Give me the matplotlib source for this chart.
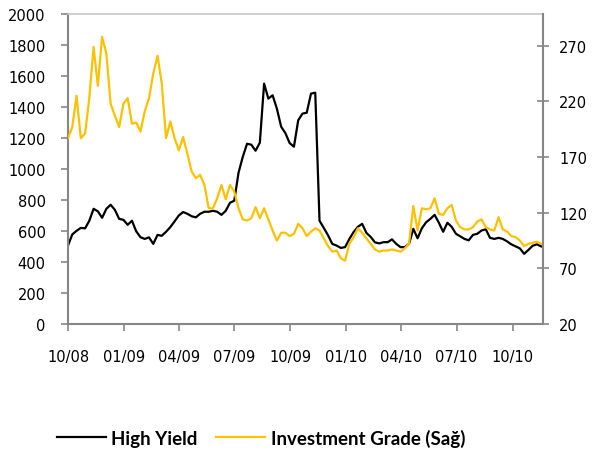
import numpy as np
import pandas as pd
import matplotlib
matplotlib.use("Agg")
import matplotlib.pyplot as plt
import matplotlib.dates as mdates
from matplotlib.lines import Line2D

# haftalik veri, 2008-10-01'den baslar
start = "2008-10-01"
n_weeks = 112

high_yield = [505, 577, 600, 619, 616, 665, 742, 726, 684, 742,
              768, 735, 677, 671, 639, 665, 597, 559, 548, 558,
              516, 574, 568, 594, 624, 661, 699, 721, 710, 694,
              687, 710, 723, 723, 729, 723, 703, 729, 781, 794,
              974, 1077, 1161, 1155, 1116, 1168, 1548, 1452, 1473, 1387,
              1271, 1229, 1165, 1142, 1312, 1355, 1361, 1484, 1490, 665,
              619, 571, 516, 505, 490, 495, 548, 592, 626, 645,
              587, 561, 526, 519, 527, 527, 545, 516, 495, 495,
              516, 613, 552, 616, 655, 677, 703, 652, 594, 652,
              626, 581, 565, 548, 539, 574, 581, 602, 610, 555,
              548, 555, 548, 532, 513, 500, 487, 452, 477, 504,
              513, 500]

investment_grade = [187, 197, 225, 187, 191, 223, 269, 234, 278, 263,
                    218, 207, 197, 218, 223, 200, 201, 193, 211, 223,
                    245, 261, 236, 187, 202, 187, 176, 188, 173, 157,
                    151, 154, 145, 124, 124, 133, 145, 132, 145, 139,
                    124, 114, 113, 115, 125, 115, 124, 114, 104, 95,
                    102, 102, 99, 101, 110, 106, 99, 103, 106, 104,
                    97, 90, 85, 86, 79, 77, 92, 98, 106, 102,
                    97, 92, 87, 85, 86, 86, 87, 86, 85, 88,
                    92, 126, 104, 124, 123, 124, 133, 119, 118, 124,
                    127, 113, 107, 105, 105, 107, 112, 114, 107, 105,
                    104, 116, 105, 103, 99, 98, 95, 90, 92, 93,
                    94, 92]

tick_dates = ["2008-10-01", "2009-01-01", "2009-04-01", "2009-07-01",
              "2009-10-01", "2010-01-01", "2010-04-01", "2010-07-01",
              "2010-10-01"]

left_ticks = list(range(0, 2001, 200))
right_ticks = [20, 70, 120, 170, 220, 270]

dates = pd.date_range(start, periods=n_weeks, freq="7D")

axis_gray = "#868686"
gold = "#FFC000"

fig = plt.figure(figsize=(5.96, 4.52), dpi=100)
ax = fig.add_axes([0.1141, 0.281, 0.7970, 0.6869])
ax2 = ax.twinx()

ax.plot(dates, high_yield, color="black", lw=1.6)
ax2.plot(dates, investment_grade, color=gold, lw=1.6)

ax.set_ylim(0, 2000)
ax.set_yticks(left_ticks)
ax2.set_ylim(20, 299)
ax2.set_yticks(right_ticks)

ax.set_xlim(pd.Timestamp("2008-10-01"), pd.Timestamp("2010-11-20"))
ax.set_xticks(pd.to_datetime(tick_dates))
ax.xaxis.set_major_formatter(mdates.DateFormatter("%m/%y"))

for a in (ax, ax2):
    for s in a.spines.values():
        s.set_visible(False)
ax.spines["left"].set_visible(True)
ax.spines["bottom"].set_visible(True)
ax.spines["top"].set_visible(True)
ax2.spines["right"].set_visible(True)
for s in ("left", "bottom"):
    ax.spines[s].set_color(axis_gray)
    ax.spines[s].set_linewidth(1.5)
ax.spines["top"].set_color("#c8c8c8")
ax.spines["top"].set_linewidth(1.2)
ax2.spines["right"].set_color(axis_gray)
ax2.spines["right"].set_linewidth(1.5)

ax.tick_params(axis="y", direction="out", length=5, width=1.2, color=axis_gray,
               labelsize=10.5, pad=11)
ax.tick_params(axis="x", direction="out", length=5, width=1.2, color=axis_gray,
               labelsize=10.5, pad=13)
ax2.tick_params(axis="y", direction="inout", length=9, width=1.2, color=axis_gray,
                labelsize=10.5, pad=7)

handles = [Line2D([], [], color="black", lw=1.6),
           Line2D([], [], color=gold, lw=1.6)]
fig.legend(handles, ["High Yield", "Investment Grade (Sağ)"],
           loc="center", bbox_to_anchor=(0.438, 1 - 439 / 452), ncol=2,
           frameon=False, handlelength=2.6, handletextpad=0.3, columnspacing=1.0,
           prop={"family": ["Lato", "DejaVu Sans"],
                 "weight": "bold", "size": 13.5})

fig.savefig("out.png", dpi=100)
